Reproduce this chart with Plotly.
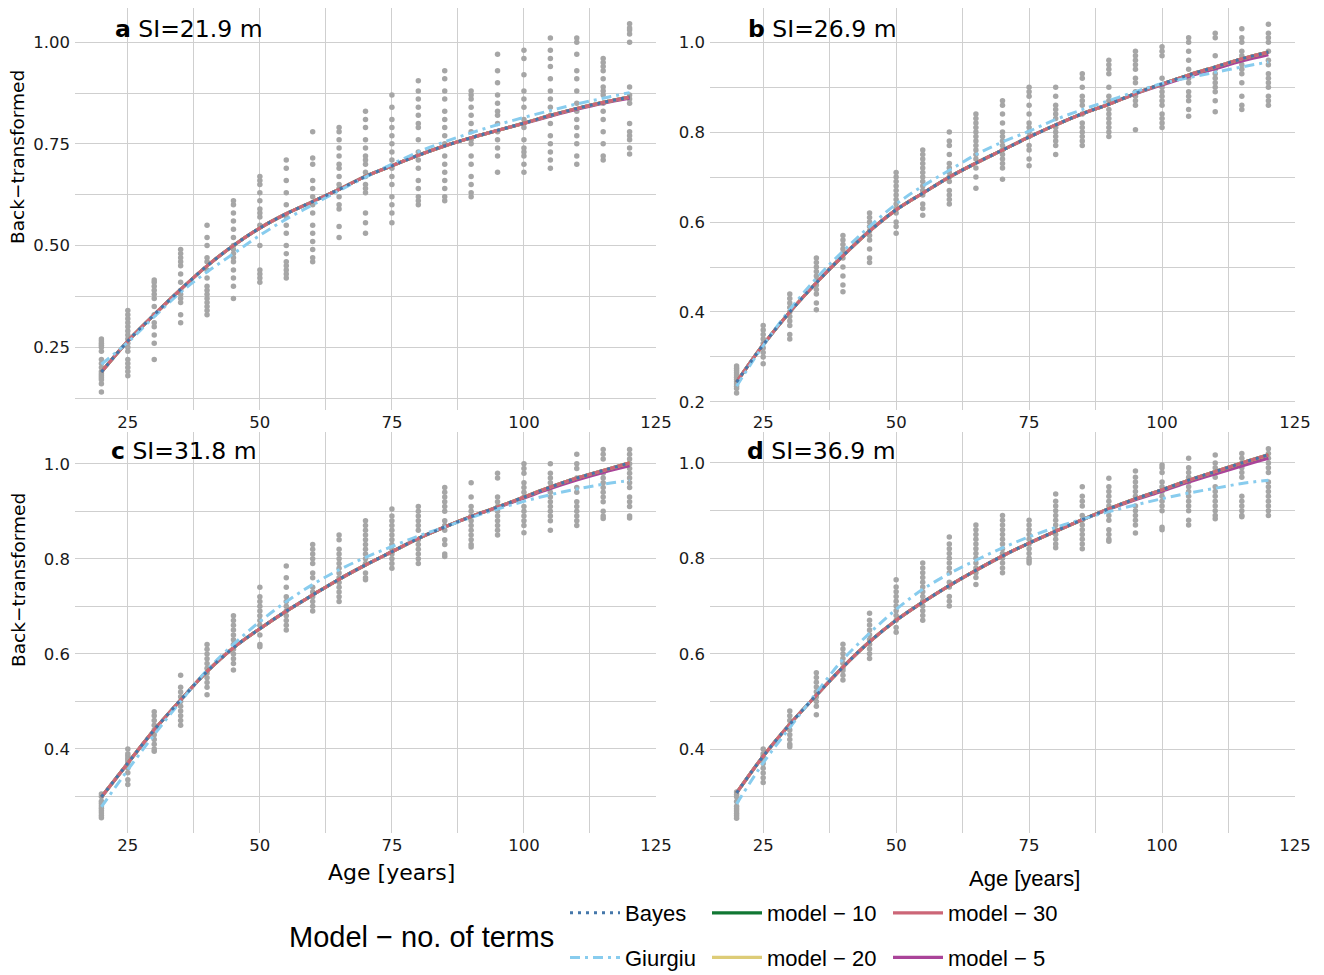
import plotly.graph_objects as go

# the page body adds an 8px margin; the figure fills the rest of the 1324x975 window
OFF = 8
W, H = 1324 - OFF, 975 - OFF


def fx(px):
    return (px - OFF) / W


def fy(py):
    return min(1.0, max(0.0, 1 - (py - OFF) / H))


AGES = [20, 25, 30, 35, 40, 45, 50, 55, 60, 65, 70, 75, 80, 85, 90, 95, 100, 105, 110, 115, 120]

# ---------------- observed points (grey) per panel, one list per age ----------------
PTS_A = [
    [0.14, 0.16, 0.17, 0.175, 0.18, 0.185, 0.19, 0.20, 0.21, 0.22, 0.24, 0.25, 0.255, 0.26, 0.265, 0.27],
    [0.18, 0.19, 0.20, 0.21, 0.22, 0.24, 0.25, 0.26, 0.27, 0.28, 0.29, 0.30, 0.31, 0.32, 0.33, 0.34],
    [0.22, 0.26, 0.28, 0.30, 0.31, 0.33, 0.35, 0.37, 0.38, 0.39, 0.40, 0.41, 0.415],
    [0.31, 0.33, 0.36, 0.37, 0.38, 0.39, 0.41, 0.43, 0.45, 0.46, 0.47, 0.48, 0.49],
    [0.33, 0.34, 0.35, 0.36, 0.37, 0.38, 0.39, 0.40, 0.42, 0.44, 0.46, 0.47, 0.50, 0.52, 0.55],
    [0.37, 0.40, 0.42, 0.44, 0.46, 0.47, 0.48, 0.49, 0.50, 0.52, 0.54, 0.56, 0.58, 0.60, 0.61],
    [0.41, 0.42, 0.43, 0.44, 0.50, 0.55, 0.57, 0.58, 0.59, 0.61, 0.63, 0.65, 0.66, 0.67],
    [0.42, 0.43, 0.44, 0.45, 0.46, 0.48, 0.50, 0.53, 0.55, 0.57, 0.60, 0.63, 0.66, 0.69, 0.71],
    [0.46, 0.47, 0.49, 0.51, 0.53, 0.55, 0.58, 0.60, 0.62, 0.64, 0.66, 0.70, 0.715, 0.78],
    [0.52, 0.547, 0.59, 0.60, 0.62, 0.64, 0.65, 0.67, 0.69, 0.70, 0.72, 0.74, 0.76, 0.78, 0.79],
    [0.53, 0.556, 0.58, 0.63, 0.64, 0.65, 0.67, 0.68, 0.70, 0.71, 0.72, 0.74, 0.76, 0.79, 0.81, 0.83],
    [0.556, 0.58, 0.60, 0.62, 0.65, 0.67, 0.69, 0.71, 0.73, 0.75, 0.77, 0.79, 0.81, 0.84, 0.87],
    [0.60, 0.61, 0.62, 0.64, 0.66, 0.69, 0.71, 0.73, 0.76, 0.79, 0.80, 0.82, 0.84, 0.86, 0.88, 0.905],
    [0.61, 0.62, 0.64, 0.66, 0.68, 0.70, 0.72, 0.75, 0.77, 0.79, 0.81, 0.83, 0.86, 0.88, 0.91, 0.93],
    [0.62, 0.63, 0.65, 0.67, 0.70, 0.72, 0.75, 0.76, 0.78, 0.80, 0.82, 0.84, 0.86, 0.87, 0.88],
    [0.68, 0.72, 0.74, 0.76, 0.78, 0.80, 0.82, 0.83, 0.85, 0.87, 0.90, 0.93, 0.97],
    [0.68, 0.70, 0.72, 0.73, 0.74, 0.76, 0.79, 0.80, 0.81, 0.84, 0.86, 0.88, 0.92, 0.96, 0.98],
    [0.69, 0.71, 0.73, 0.75, 0.77, 0.80, 0.82, 0.84, 0.86, 0.88, 0.91, 0.94, 0.96, 0.98, 1.01],
    [0.70, 0.72, 0.75, 0.77, 0.79, 0.81, 0.83, 0.85, 0.88, 0.91, 0.93, 0.97, 1.00, 1.01],
    [0.71, 0.72, 0.75, 0.78, 0.81, 0.83, 0.85, 0.87, 0.88, 0.89, 0.91, 0.93, 0.94, 0.95, 0.96],
    [0.725, 0.74, 0.76, 0.77, 0.78, 0.80, 0.85, 0.86, 0.87, 0.89, 1.00, 1.02, 1.03, 1.035, 1.045],
]
PTS_B = [
    [0.22, 0.23, 0.235, 0.24, 0.245, 0.25, 0.255, 0.26, 0.265, 0.27, 0.275, 0.28],
    [0.285, 0.30, 0.31, 0.32, 0.33, 0.34, 0.35, 0.36, 0.37],
    [0.34, 0.35, 0.37, 0.38, 0.39, 0.40, 0.41, 0.42, 0.43, 0.44],
    [0.405, 0.42, 0.44, 0.45, 0.46, 0.47, 0.48, 0.49, 0.50, 0.51, 0.52],
    [0.445, 0.46, 0.48, 0.50, 0.52, 0.53, 0.54, 0.55, 0.56, 0.57],
    [0.51, 0.52, 0.54, 0.56, 0.57, 0.58, 0.59, 0.60, 0.61, 0.62],
    [0.575, 0.59, 0.60, 0.62, 0.63, 0.64, 0.65, 0.66, 0.67, 0.68, 0.69, 0.70, 0.71],
    [0.615, 0.63, 0.64, 0.66, 0.67, 0.68, 0.69, 0.70, 0.71, 0.72, 0.73, 0.74, 0.75, 0.76],
    [0.64, 0.65, 0.66, 0.67, 0.69, 0.70, 0.71, 0.72, 0.73, 0.75, 0.77, 0.78, 0.80],
    [0.675, 0.70, 0.72, 0.74, 0.75, 0.76, 0.77, 0.78, 0.79, 0.80, 0.81, 0.82, 0.83, 0.84],
    [0.695, 0.72, 0.73, 0.74, 0.75, 0.76, 0.77, 0.78, 0.79, 0.80, 0.82, 0.84, 0.86, 0.87],
    [0.725, 0.74, 0.76, 0.77, 0.79, 0.80, 0.81, 0.82, 0.84, 0.86, 0.88, 0.89, 0.90],
    [0.75, 0.77, 0.78, 0.79, 0.80, 0.81, 0.83, 0.84, 0.85, 0.86, 0.88, 0.90],
    [0.77, 0.78, 0.79, 0.80, 0.81, 0.82, 0.84, 0.86, 0.87, 0.88, 0.90, 0.92, 0.93],
    [0.79, 0.80, 0.81, 0.82, 0.83, 0.84, 0.85, 0.87, 0.88, 0.90, 0.93, 0.94, 0.95, 0.96],
    [0.805, 0.86, 0.87, 0.88, 0.89, 0.91, 0.92, 0.94, 0.95, 0.96, 0.97, 0.98],
    [0.81, 0.82, 0.83, 0.84, 0.86, 0.87, 0.88, 0.89, 0.90, 0.92, 0.97, 0.98, 0.99],
    [0.835, 0.85, 0.87, 0.88, 0.89, 0.91, 0.92, 0.94, 0.96, 0.98, 1.00, 1.01],
    [0.845, 0.87, 0.89, 0.90, 0.91, 0.92, 0.93, 0.94, 0.97, 1.01, 1.02],
    [0.85, 0.86, 0.88, 0.91, 0.93, 0.94, 0.95, 0.96, 0.97, 0.98, 1.00, 1.01, 1.03],
    [0.86, 0.87, 0.88, 0.90, 0.91, 0.92, 0.93, 0.95, 0.96, 0.98, 1.00, 1.01, 1.02, 1.04],
]
PTS_C = [
    [0.255, 0.26, 0.265, 0.27, 0.275, 0.28, 0.285, 0.29, 0.30, 0.305],
    [0.325, 0.335, 0.35, 0.36, 0.365, 0.37, 0.375, 0.38, 0.385, 0.39, 0.40],
    [0.395, 0.40, 0.41, 0.42, 0.43, 0.44, 0.45, 0.46, 0.47, 0.478],
    [0.45, 0.46, 0.47, 0.48, 0.49, 0.50, 0.51, 0.52, 0.53, 0.555],
    [0.514, 0.53, 0.54, 0.55, 0.56, 0.57, 0.58, 0.59, 0.60, 0.61, 0.62],
    [0.566, 0.58, 0.59, 0.60, 0.61, 0.62, 0.63, 0.64, 0.65, 0.66, 0.67, 0.68],
    [0.615, 0.62, 0.64, 0.66, 0.67, 0.68, 0.69, 0.70, 0.71, 0.72, 0.74],
    [0.65, 0.66, 0.67, 0.68, 0.69, 0.70, 0.71, 0.72, 0.74, 0.76, 0.785],
    [0.69, 0.70, 0.71, 0.72, 0.73, 0.74, 0.76, 0.77, 0.79, 0.80, 0.81, 0.82, 0.83],
    [0.71, 0.72, 0.73, 0.74, 0.75, 0.76, 0.77, 0.78, 0.79, 0.80, 0.81, 0.82, 0.84, 0.85],
    [0.756, 0.76, 0.77, 0.79, 0.80, 0.81, 0.82, 0.83, 0.84, 0.85, 0.86, 0.87, 0.88],
    [0.78, 0.79, 0.80, 0.81, 0.82, 0.83, 0.84, 0.85, 0.86, 0.87, 0.88, 0.89, 0.905],
    [0.79, 0.80, 0.81, 0.82, 0.83, 0.84, 0.86, 0.87, 0.88, 0.89, 0.90, 0.91],
    [0.805, 0.81, 0.83, 0.84, 0.86, 0.87, 0.88, 0.90, 0.91, 0.92, 0.93, 0.94, 0.95],
    [0.825, 0.83, 0.84, 0.85, 0.86, 0.87, 0.88, 0.89, 0.90, 0.91, 0.93, 0.96],
    [0.85, 0.86, 0.87, 0.88, 0.89, 0.90, 0.91, 0.92, 0.93, 0.97, 0.98],
    [0.855, 0.87, 0.88, 0.89, 0.90, 0.91, 0.93, 0.94, 0.95, 0.96, 0.98, 0.99, 1.00],
    [0.86, 0.88, 0.89, 0.90, 0.91, 0.92, 0.93, 0.94, 0.95, 0.96, 0.97, 0.98, 1.00],
    [0.87, 0.88, 0.89, 0.90, 0.91, 0.92, 0.94, 0.95, 0.97, 0.99, 1.00, 1.02],
    [0.885, 0.89, 0.90, 0.92, 0.93, 0.94, 0.95, 0.96, 0.97, 0.98, 1.01, 1.02, 1.03],
    [0.886, 0.89, 0.91, 0.92, 0.93, 0.95, 0.96, 0.97, 0.98, 0.99, 1.00, 1.01, 1.02, 1.03],
]
PTS_D = [
    [0.255, 0.26, 0.265, 0.27, 0.275, 0.28, 0.29, 0.30, 0.305, 0.31],
    [0.33, 0.34, 0.35, 0.36, 0.37, 0.38, 0.385, 0.39, 0.40],
    [0.405, 0.41, 0.42, 0.43, 0.44, 0.45, 0.46, 0.47, 0.48],
    [0.472, 0.49, 0.50, 0.51, 0.52, 0.53, 0.54, 0.55, 0.56],
    [0.545, 0.555, 0.565, 0.57, 0.58, 0.59, 0.60, 0.61, 0.62],
    [0.59, 0.60, 0.61, 0.62, 0.63, 0.64, 0.65, 0.66, 0.67, 0.685],
    [0.645, 0.655, 0.67, 0.68, 0.69, 0.70, 0.71, 0.72, 0.73, 0.74, 0.755],
    [0.67, 0.68, 0.69, 0.70, 0.71, 0.72, 0.73, 0.74, 0.75, 0.76, 0.77, 0.78, 0.79],
    [0.70, 0.71, 0.72, 0.74, 0.75, 0.77, 0.78, 0.79, 0.80, 0.81, 0.82, 0.83, 0.845],
    [0.745, 0.76, 0.77, 0.78, 0.79, 0.80, 0.81, 0.82, 0.83, 0.84, 0.85, 0.86, 0.87],
    [0.77, 0.78, 0.79, 0.80, 0.81, 0.82, 0.83, 0.84, 0.85, 0.86, 0.87, 0.88, 0.89],
    [0.79, 0.795, 0.80, 0.81, 0.82, 0.83, 0.84, 0.85, 0.86, 0.87, 0.88],
    [0.822, 0.83, 0.84, 0.85, 0.86, 0.87, 0.88, 0.89, 0.90, 0.91, 0.92, 0.935],
    [0.82, 0.83, 0.84, 0.85, 0.86, 0.87, 0.88, 0.89, 0.91, 0.92, 0.93, 0.95],
    [0.836, 0.84, 0.85, 0.86, 0.88, 0.89, 0.90, 0.91, 0.92, 0.93, 0.94, 0.95, 0.968],
    [0.853, 0.87, 0.88, 0.89, 0.90, 0.91, 0.93, 0.94, 0.95, 0.96, 0.97, 0.983],
    [0.86, 0.865, 0.90, 0.91, 0.92, 0.93, 0.94, 0.95, 0.96, 0.98, 0.99, 0.996],
    [0.87, 0.88, 0.90, 0.91, 0.92, 0.93, 0.94, 0.95, 0.96, 0.97, 0.98, 0.99, 1.01],
    [0.883, 0.89, 0.90, 0.91, 0.92, 0.93, 0.94, 0.95, 0.97, 0.99, 1.00, 1.017],
    [0.887, 0.89, 0.90, 0.91, 0.92, 0.93, 0.97, 0.98, 0.99, 1.00, 1.01, 1.02],
    [0.89, 0.90, 0.91, 0.92, 0.93, 0.94, 0.95, 0.96, 0.98, 0.99, 1.00, 1.01, 1.02, 1.03],
]

# ---------------- fitted curves per panel ----------------
MODEL_A = [0.189, 0.265, 0.330, 0.392, 0.450, 0.500, 0.543, 0.578, 0.608, 0.638, 0.670, 0.696,
           0.722, 0.745, 0.765, 0.783, 0.801, 0.820, 0.837, 0.852, 0.865]
MODEL_B = [0.244, 0.327, 0.400, 0.465, 0.525, 0.580, 0.627, 0.664, 0.700, 0.731, 0.760, 0.789,
           0.816, 0.841, 0.862, 0.886, 0.907, 0.927, 0.945, 0.963, 0.978]
MODEL_C = [0.299, 0.370, 0.440, 0.503, 0.563, 0.613, 0.653, 0.690, 0.724, 0.757, 0.787, 0.815,
           0.843, 0.867, 0.889, 0.909, 0.930, 0.951, 0.970, 0.986, 1.002]
MODEL_D = [0.308, 0.385, 0.452, 0.513, 0.572, 0.625, 0.670, 0.708, 0.743, 0.775, 0.805, 0.832,
           0.857, 0.881, 0.904, 0.925, 0.944, 0.964, 0.982, 1.000, 1.017]
MODEL5_A = [0.189, 0.265, 0.330, 0.392, 0.450, 0.500, 0.543, 0.578, 0.608, 0.638, 0.670, 0.696,
            0.722, 0.745, 0.765, 0.783, 0.800, 0.818, 0.835, 0.850, 0.862]
MODEL5_B = [0.244, 0.327, 0.400, 0.465, 0.525, 0.580, 0.627, 0.664, 0.700, 0.731, 0.760, 0.789,
            0.816, 0.841, 0.862, 0.885, 0.905, 0.924, 0.941, 0.958, 0.972]
MODEL5_C = [0.299, 0.370, 0.440, 0.503, 0.563, 0.613, 0.653, 0.690, 0.724, 0.757, 0.787, 0.815,
            0.843, 0.867, 0.889, 0.908, 0.928, 0.948, 0.966, 0.982, 0.996]
MODEL5_D = [0.308, 0.385, 0.452, 0.513, 0.572, 0.625, 0.670, 0.708, 0.743, 0.775, 0.805, 0.832,
            0.857, 0.881, 0.903, 0.923, 0.941, 0.960, 0.977, 0.994, 1.010]
GIURGIU_A = [0.208, 0.262, 0.325, 0.385, 0.435, 0.480, 0.525, 0.565, 0.600, 0.635, 0.668, 0.700,
             0.730, 0.755, 0.777, 0.797, 0.815, 0.832, 0.848, 0.862, 0.876]
GIURGIU_B = [0.235, 0.325, 0.405, 0.475, 0.535, 0.590, 0.640, 0.680, 0.715, 0.750, 0.778, 0.802,
             0.828, 0.850, 0.870, 0.890, 0.908, 0.921, 0.933, 0.945, 0.956]
GIURGIU_C = [0.278, 0.356, 0.430, 0.500, 0.566, 0.620, 0.668, 0.710, 0.746, 0.777, 0.803, 0.826,
             0.848, 0.867, 0.887, 0.905, 0.921, 0.935, 0.947, 0.957, 0.965]
GIURGIU_D = [0.285, 0.371, 0.445, 0.518, 0.588, 0.643, 0.693, 0.735, 0.768, 0.796, 0.822, 0.845,
             0.865, 0.882, 0.898, 0.912, 0.925, 0.937, 0.947, 0.957, 0.964]

PANELS = [
    dict(key="a", si="SI=21.9 m", pts=PTS_A, model=MODEL_A, model5=MODEL5_A, giurgiu=GIURGIU_A,
         yr=[0.0956, 1.084], yt=[0.25, 0.50, 0.75, 1.00], ytext=["0.25", "0.50", "0.75", "1.00"],
         ym=[0.125, 0.375, 0.625, 0.875]),
    dict(key="b", si="SI=26.9 m", pts=PTS_B, model=MODEL_B, model5=MODEL5_B, giurgiu=GIURGIU_B,
         yr=[0.182, 1.076], yt=[0.2, 0.4, 0.6, 0.8, 1.0], ytext=["0.2", "0.4", "0.6", "0.8", "1.0"],
         ym=[0.3, 0.5, 0.7, 0.9]),
    dict(key="c", si="SI=31.8 m", pts=PTS_C, model=MODEL_C, model5=MODEL5_C, giurgiu=GIURGIU_C,
         yr=[0.223, 1.067], yt=[0.4, 0.6, 0.8, 1.0], ytext=["0.4", "0.6", "0.8", "1.0"],
         ym=[0.3, 0.5, 0.7, 0.9]),
    dict(key="d", si="SI=36.9 m", pts=PTS_D, model=MODEL_D, model5=MODEL5_D, giurgiu=GIURGIU_D,
         yr=[0.224, 1.065], yt=[0.4, 0.6, 0.8, 1.0], ytext=["0.4", "0.6", "0.8", "1.0"],
         ym=[0.3, 0.5, 0.7, 0.9]),
]

X_TICKS = [25, 50, 75, 100, 125]
X_MINOR = [37.5, 62.5, 87.5, 112.5]

SERIES = [  # name, colour, dash, width, legend
    ("model \u2212 5", "#AA4499", "solid", 3.2, "legend3"),
    ("model \u2212 10", "#117733", "solid", 3.2, "legend2"),
    ("model \u2212 20", "#DDCC77", "solid", 3.2, "legend2"),
    ("model \u2212 30", "#CC6677", "solid", 3.2, "legend3"),
    ("Giurgiu", "#88CCEE", "10px,5px,3px,5px", 3, "legend"),
    ("Bayes", "#4477AA", "3px,5px", 3, "legend"),
]
RANK = {"Bayes": 1, "Giurgiu": 2, "model \u2212 10": 1, "model \u2212 20": 2,
        "model \u2212 30": 1, "model \u2212 5": 2}

# panel boxes in window pixels: (left, right, top, bottom)
BOX = [(75, 656, 8, 410), (710, 1295, 8, 410), (75, 656, 432, 833), (710, 1295, 432, 833)]

TICKFONT = dict(family="DejaVu Sans", size=16.5, color="#1a1a1a")
GRID = "#CFCFCF"

fig = go.Figure()
layout = dict(width=W, height=H, margin=dict(l=0, r=0, t=0, b=0, autoexpand=False),
              paper_bgcolor="white", plot_bgcolor="white", showlegend=True)

for i, p in enumerate(PANELS):
    n = i + 1
    xa = "x" if n == 1 else f"x{n}"
    ya = "y" if n == 1 else f"y{n}"
    xs, ys = [], []
    for age, vals in zip(AGES, p["pts"]):
        xs += [age] * len(vals)
        ys += vals
    fig.add_trace(go.Scatter(x=xs, y=ys, mode="markers", xaxis=xa, yaxis=ya,
                             marker=dict(color="#A6A6A6", size=5.5), showlegend=False,
                             hoverinfo="skip"))
    for name, col, dash, w, leg in SERIES:
        if name == "model \u2212 5":
            yv = p["model5"]
        elif name == "Giurgiu":
            yv = p["giurgiu"]
        else:
            yv = p["model"]
        fig.add_trace(go.Scatter(x=AGES, y=yv, mode="lines", xaxis=xa, yaxis=ya, name=name,
                                 line=dict(color=col, dash=dash, width=w, shape="spline",
                                           smoothing=1.0),
                                 legend=leg, legendgroup=name, legendrank=RANK[name],
                                 showlegend=(n == 1)))
    l, r, t, b = BOX[i]
    layout[f"xaxis{'' if n == 1 else n}"] = dict(
        domain=[fx(l), fx(r)], range=[15, 125], anchor=ya, tickvals=X_TICKS,
        ticktext=[str(v) for v in X_TICKS], showgrid=True, gridcolor=GRID, gridwidth=1,
        minor=dict(tickvals=X_MINOR, showgrid=True, gridcolor=GRID, gridwidth=1),
        zeroline=False, showline=False, ticks="", tickfont=TICKFONT, automargin=False)
    layout[f"yaxis{'' if n == 1 else n}"] = dict(
        domain=[fy(b), fy(t)], range=p["yr"], anchor=xa, tickvals=p["yt"],
        ticktext=p["ytext"], showgrid=True, gridcolor=GRID, gridwidth=1,
        minor=dict(tickvals=p["ym"], showgrid=True, gridcolor=GRID, gridwidth=1),
        zeroline=False, showline=False, ticks="", tickfont=TICKFONT, automargin=False,
        ticklabelstandoff=4)

ann = []
TITLE_POS = [(113, 29), (746, 29), (109, 451), (745, 451)]
for p, (px, py) in zip(PANELS, TITLE_POS):
    ann.append(dict(text=f"<b>{p['key']}</b> {p['si']}", x=fx(px), y=fy(py), xref="paper",
                    yref="paper", xanchor="left", yanchor="middle", showarrow=False,
                    font=dict(family="DejaVu Sans", size=23.5, color="black")))
for py in (157, 580):
    ann.append(dict(text="Back\u2212transformed", x=fx(18), y=fy(py), xref="paper",
                    yref="paper", xanchor="center", yanchor="middle", textangle=-90,
                    showarrow=False, font=dict(family="DejaVu Sans", size=18.5, color="black")))
ann.append(dict(text="Age [years]", x=fx(391), y=fy(872), xref="paper", yref="paper",
                xanchor="center", yanchor="middle", showarrow=False,
                font=dict(family="DejaVu Sans", size=22, color="black")))
ann.append(dict(text="Age [years]", x=fx(1024), y=fy(878), xref="paper", yref="paper",
                xanchor="center", yanchor="middle", showarrow=False,
                font=dict(family="Liberation Sans", size=22, color="black")))
ann.append(dict(text="Model \u2212 no. of terms", x=fx(287), y=fy(937), xref="paper",
                yref="paper", xanchor="left", yanchor="middle", showarrow=False,
                font=dict(family="Liberation Sans", size=29, color="black")))
layout["annotations"] = ann

LEGFONT = dict(family="Liberation Sans", size=22, color="black")
for key, px in (("legend", 565), ("legend2", 707), ("legend3", 888)):
    layout[key] = dict(x=fx(px), y=fy(892), xanchor="left", yanchor="top",
                       orientation="v", font=LEGFONT, bgcolor="rgba(0,0,0,0)",
                       traceorder="grouped", tracegroupgap=13, itemwidth=50)

fig.update_layout(**layout)
fig.write_html("out.html")
